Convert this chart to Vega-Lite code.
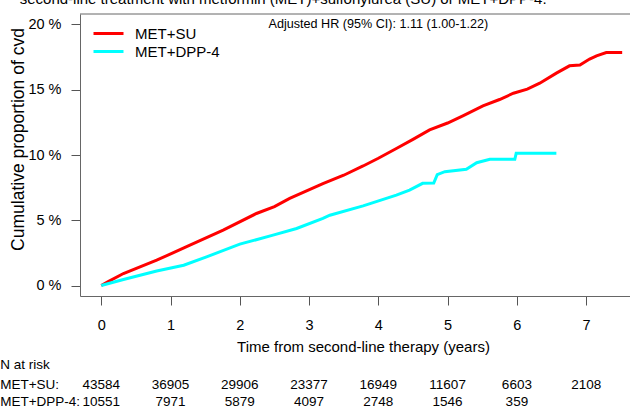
{
  "$schema": "https://vega.github.io/schema/vega-lite/v6.json",
  "autosize": "none",
  "padding": {"left": 80, "top": 14, "right": 0, "bottom": 113},
  "width": 550,
  "height": 282,
  "background": "white",
  "config": {
    "font": "Liberation Sans",
    "view": {"stroke": null},
    "axis": {"labelColor": "black", "titleColor": "black", "titleFontWeight": "normal", "grid": false}
  },
  "datasets": {
    "curves": [
      {"group": "MET+SU", "time": 0, "cum": 0},
      {"group": "MET+SU", "time": 0.1, "cum": 0.3},
      {"group": "MET+SU", "time": 0.32, "cum": 0.92},
      {"group": "MET+SU", "time": 0.8, "cum": 1.94},
      {"group": "MET+SU", "time": 1.28, "cum": 3.09},
      {"group": "MET+SU", "time": 1.76, "cum": 4.24},
      {"group": "MET+SU", "time": 2.24, "cum": 5.52},
      {"group": "MET+SU", "time": 2.5, "cum": 6.05},
      {"group": "MET+SU", "time": 2.72, "cum": 6.68},
      {"group": "MET+SU", "time": 3.2, "cum": 7.8},
      {"group": "MET+SU", "time": 3.5, "cum": 8.45},
      {"group": "MET+SU", "time": 3.78, "cum": 9.16},
      {"group": "MET+SU", "time": 4.0, "cum": 9.75},
      {"group": "MET+SU", "time": 4.26, "cum": 10.5},
      {"group": "MET+SU", "time": 4.5, "cum": 11.2},
      {"group": "MET+SU", "time": 4.74, "cum": 11.92},
      {"group": "MET+SU", "time": 5.0, "cum": 12.45},
      {"group": "MET+SU", "time": 5.22, "cum": 13.0},
      {"group": "MET+SU", "time": 5.51, "cum": 13.76},
      {"group": "MET+SU", "time": 5.75, "cum": 14.25},
      {"group": "MET+SU", "time": 5.95, "cum": 14.73},
      {"group": "MET+SU", "time": 6.15, "cum": 15.05},
      {"group": "MET+SU", "time": 6.33, "cum": 15.5},
      {"group": "MET+SU", "time": 6.57, "cum": 16.27},
      {"group": "MET+SU", "time": 6.76, "cum": 16.83},
      {"group": "MET+SU", "time": 6.91, "cum": 16.9},
      {"group": "MET+SU", "time": 7.05, "cum": 17.35},
      {"group": "MET+SU", "time": 7.15, "cum": 17.6},
      {"group": "MET+SU", "time": 7.29, "cum": 17.85},
      {"group": "MET+SU", "time": 7.52, "cum": 17.85},
      {"group": "MET+DPP-4", "time": 0, "cum": 0},
      {"group": "MET+DPP-4", "time": 0.32, "cum": 0.46},
      {"group": "MET+DPP-4", "time": 0.8, "cum": 1.12},
      {"group": "MET+DPP-4", "time": 1.19, "cum": 1.56},
      {"group": "MET+DPP-4", "time": 1.52, "cum": 2.2},
      {"group": "MET+DPP-4", "time": 2.0, "cum": 3.17},
      {"group": "MET+DPP-4", "time": 2.48, "cum": 3.86},
      {"group": "MET+DPP-4", "time": 2.82, "cum": 4.37},
      {"group": "MET+DPP-4", "time": 3.2, "cum": 5.14},
      {"group": "MET+DPP-4", "time": 3.3, "cum": 5.39},
      {"group": "MET+DPP-4", "time": 3.78, "cum": 6.1},
      {"group": "MET+DPP-4", "time": 4.26, "cum": 6.93},
      {"group": "MET+DPP-4", "time": 4.45, "cum": 7.31},
      {"group": "MET+DPP-4", "time": 4.64, "cum": 7.83},
      {"group": "MET+DPP-4", "time": 4.8, "cum": 7.85},
      {"group": "MET+DPP-4", "time": 4.85, "cum": 8.5},
      {"group": "MET+DPP-4", "time": 4.96, "cum": 8.72},
      {"group": "MET+DPP-4", "time": 5.27, "cum": 8.9},
      {"group": "MET+DPP-4", "time": 5.42, "cum": 9.41},
      {"group": "MET+DPP-4", "time": 5.61, "cum": 9.67},
      {"group": "MET+DPP-4", "time": 5.97, "cum": 9.67},
      {"group": "MET+DPP-4", "time": 5.99, "cum": 10.13},
      {"group": "MET+DPP-4", "time": 6.57, "cum": 10.13}
    ],
    "risk": [
      {"group": "MET+SU", "time": 0, "n": 43584},
      {"group": "MET+SU", "time": 1, "n": 36905},
      {"group": "MET+SU", "time": 2, "n": 29906},
      {"group": "MET+SU", "time": 3, "n": 23377},
      {"group": "MET+SU", "time": 4, "n": 16949},
      {"group": "MET+SU", "time": 5, "n": 11607},
      {"group": "MET+SU", "time": 6, "n": 6603},
      {"group": "MET+SU", "time": 7, "n": 2108},
      {"group": "MET+DPP-4", "time": 0, "n": 10551},
      {"group": "MET+DPP-4", "time": 1, "n": 7971},
      {"group": "MET+DPP-4", "time": 2, "n": 5879},
      {"group": "MET+DPP-4", "time": 3, "n": 4097},
      {"group": "MET+DPP-4", "time": 4, "n": 2748},
      {"group": "MET+DPP-4", "time": 5, "n": 1546},
      {"group": "MET+DPP-4", "time": 6, "n": 359}
    ]
  },
  "layer": [
    {
      "data": {"name": "curves"},
      "mark": {"type": "line", "strokeWidth": 3, "interpolate": "linear"},
      "encoding": {
        "x": {
          "field": "time", "type": "quantitative",
          "scale": {"domain": [-0.307, 7.633], "nice": false, "zero": false},
          "axis": {
            "values": [0, 1, 2, 3, 4, 5, 6, 7],
            "format": "d",
            "title": "Time from second-line therapy (years)",
            "domainColor": "#666", "tickColor": "#555", "tickSize": 9,
            "labelFontSize": 14.5, "labelPadding": 13,
            "titleFontSize": 15, "titleX": 283, "titleY": 50, "titleBaseline": "middle", "titleAnchor": "middle", "titleAlign": "center"
          }
        },
        "y": {
          "field": "cum", "type": "quantitative",
          "scale": {"domain": [-0.8, 20.8], "nice": false, "zero": false},
          "axis": {
            "values": [0, 5, 10, 15, 20],
            "labelExpr": "datum.value + ' %'",
            "title": "Cumulative proportion of cvd",
            "domainColor": "#666", "tickColor": "#555", "tickSize": 9,
            "labelFontSize": 14.5, "labelPadding": 10,
            "titleFontSize": 17.5, "titleX": -62, "titleY": 125, "titleBaseline": "middle", "titleAlign": "center", "titleAngle": -90
          }
        },
        "color": {
          "field": "group", "type": "nominal",
          "scale": {"domain": ["MET+SU", "MET+DPP-4"], "range": ["#FF0000", "#00FFFF"]},
          "legend": {
            "orient": "none", "legendX": 21, "legendY": 12, "title": null,
            "symbolType": "M-5,0H5", "symbolSize": 36, "symbolStrokeWidth": 3,
            "labelFontSize": 15, "labelOffset": 19, "rowPadding": 2, "padding": 0,
            "labelColor": "black"
          }
        }
      }
    },
    {
      "data": {"values": [{}]},
      "mark": {"type": "rule", "color": "#666", "strokeWidth": 1},
      "encoding": {"y": {"datum": 20.8}}
    },
    {
      "data": {"values": [{}]},
      "mark": {"type": "text", "text": "second-line treatment with metformin (MET)+sulfonylurea (SU) or MET+DPP-4.", "fontSize": 15, "align": "left", "baseline": "alphabetic", "color": "black"},
      "encoding": {"x": {"datum": -1.177}, "y": {"datum": 21.57}}
    },
    {
      "data": {"values": [{}]},
      "mark": {"type": "text", "text": "Adjusted HR (95% CI): 1.11 (1.00-1.22)", "fontSize": 12.6, "align": "center", "baseline": "middle", "color": "black"},
      "encoding": {"x": {"datum": 4}, "y": {"datum": 20}}
    },
    {
      "data": {"values": [{}]},
      "mark": {"type": "text", "text": "N at risk", "fontSize": 13.5, "align": "left", "baseline": "middle", "color": "black"},
      "encoding": {"x": {"datum": -1.46}, "y": {"datum": -6.05}}
    },
    {
      "data": {"values": [{}]},
      "mark": {"type": "text", "text": "MET+SU:", "fontSize": 13.5, "align": "left", "baseline": "middle", "color": "black"},
      "encoding": {"x": {"datum": -1.46}, "y": {"datum": -7.6}}
    },
    {
      "data": {"values": [{}]},
      "mark": {"type": "text", "text": "MET+DPP-4:", "fontSize": 13.5, "align": "left", "baseline": "middle", "color": "black"},
      "encoding": {"x": {"datum": -1.46}, "y": {"datum": -8.9}}
    },
    {
      "data": {"name": "risk"},
      "transform": [{"filter": "datum.group === 'MET+SU'"}],
      "mark": {"type": "text", "fontSize": 13.5, "align": "center", "baseline": "middle", "color": "black"},
      "encoding": {"x": {"field": "time", "type": "quantitative"}, "y": {"datum": -7.6}, "text": {"field": "n", "type": "nominal"}}
    },
    {
      "data": {"name": "risk"},
      "transform": [{"filter": "datum.group === 'MET+DPP-4'"}],
      "mark": {"type": "text", "fontSize": 13.5, "align": "center", "baseline": "middle", "color": "black"},
      "encoding": {"x": {"field": "time", "type": "quantitative"}, "y": {"datum": -8.9}, "text": {"field": "n", "type": "nominal"}}
    }
  ]
}
